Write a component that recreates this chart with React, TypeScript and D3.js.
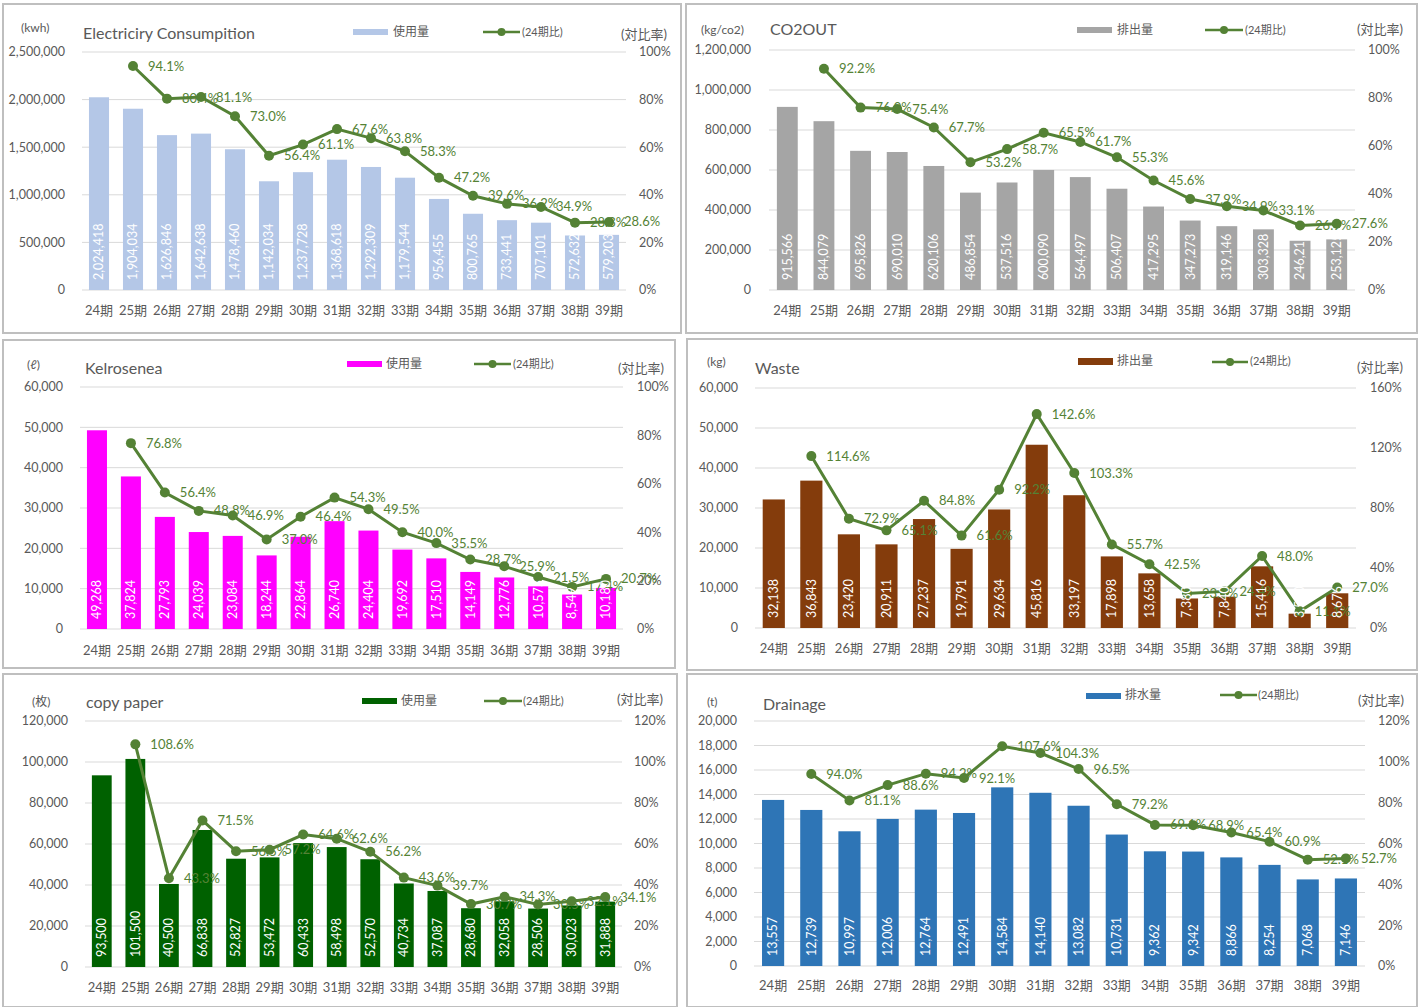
import React from "react";
import * as d3 from "d3";

const periods = ["24期","25期","26期","27期","28期","29期","30期","31期","32期","33期","34期","35期","36期","37期","38期","39期"];

const electricityUse = [2024418,1904034,1626846,1642638,1478460,1142034,1237728,1368618,1292309,1179544,956455,800765,733441,707101,572632,579203];
const electricityRatio = [94.1,80.4,81.1,73.0,56.4,61.1,67.6,63.8,58.3,47.2,39.6,36.2,34.9,28.3,28.6];

const co2Out = [915566,844079,695826,690010,620106,486854,537516,600090,564497,506407,417295,347273,319146,303328,246215,253125];
const co2Ratio = [92.2,76.0,75.4,67.7,53.2,58.7,65.5,61.7,55.3,45.6,37.9,34.9,33.1,26.9,27.6];

const keroseneUse = [49268,37824,27793,24039,23084,18244,22864,26740,24404,19692,17510,14149,12776,10575,8549,10180];
const keroseneRatio = [76.8,56.4,48.8,46.9,37.0,46.4,54.3,49.5,40.0,35.5,28.7,25.9,21.5,17.4,20.7];

const wasteOut = [32138,36843,23420,20911,27237,19791,29634,45816,33197,17898,13658,7380,7840,15416,3580,8676];
const wasteRatio = [114.6,72.9,65.1,84.8,61.6,92.2,142.6,103.3,55.7,42.5,23.0,24.4,48.0,11.1,27.0];

const paperUse = [93500,101500,40500,66838,52827,53472,60433,58498,52570,40734,37087,28680,32058,28506,30023,31888];
const paperRatio = [108.6,43.3,71.5,56.5,57.2,64.6,62.6,56.2,43.6,39.7,30.7,34.3,30.5,32.1,34.1];

const drainageOut = [13557,12739,10997,12006,12764,12491,14584,14140,13082,10731,9362,9342,8866,8254,7068,7146];
const drainageRatio = [94.0,81.1,88.6,94.2,92.1,107.6,104.3,96.5,79.2,69.1,68.9,65.4,60.9,52.1,52.7];

const FONT = "Lato, 'Noto Sans CJK JP', sans-serif";
const TXT = "#595959";
const GREEN = "#548235";
const GRID = "#d9d9d9";
const fmt = d3.format(",");

type Cfg = {
  box: [number, number, number, number];
  plot: { x0: number; x1: number; top: number; bottom: number };
  leftMax: number; leftStep: number; rightMax: number; rightStep: number;
  leftLabelX: number; rightLabelX: number; xLabelY: number;
  unit: { text: string; x: number; y: number };
  title: { text: string; x: number; y: number };
  legend: { sx: number; sy: number; sw: number; sh: number; text: string; tx: number; ty: number; lx0: number; lx1: number; ly: number; ltx: number };
  ratioTitle: { x: number; y: number };
  color: string;
  values: number[];
  ratio: number[];
  pad: number;
};

const panels: Cfg[] = [
  {
    box: [3, 4, 678, 329],
    plot: { x0: 82, x1: 626, top: 52, bottom: 290 },
    leftMax: 2500000, leftStep: 500000, rightMax: 100, rightStep: 20,
    leftLabelX: 65, rightLabelX: 639, xLabelY: 310,
    unit: { text: "(kwh)", x: 21, y: 28 },
    title: { text: "Electriciry Consumpition", x: 83, y: 33 },
    legend: { sx: 353, sy: 29, sw: 35, sh: 6, text: "使用量", tx: 393, ty: 32, lx0: 483, lx1: 520, ly: 32, ltx: 522 },
    ratioTitle: { x: 621, y: 34 },
    color: "#b4c7e7", values: electricityUse, ratio: electricityRatio, pad: 0.41,
  },
  {
    box: [686, 4, 731, 329],
    plot: { x0: 769, x1: 1355, top: 50, bottom: 290 },
    leftMax: 1200000, leftStep: 200000, rightMax: 100, rightStep: 20,
    leftLabelX: 751, rightLabelX: 1368, xLabelY: 310,
    unit: { text: "(kg/co2)", x: 701, y: 30 },
    title: { text: "CO2OUT", x: 770, y: 29 },
    legend: { sx: 1077, sy: 27, sw: 35, sh: 6, text: "排出量", tx: 1117, ty: 30, lx0: 1205, lx1: 1243, ly: 30, ltx: 1245 },
    ratioTitle: { x: 1357, y: 29 },
    color: "#a5a5a5", values: co2Out, ratio: co2Ratio, pad: 0.43,
  },
  {
    box: [3, 340, 672, 328],
    plot: { x0: 80, x1: 623, top: 387, bottom: 629 },
    leftMax: 60000, leftStep: 10000, rightMax: 100, rightStep: 20,
    leftLabelX: 63, rightLabelX: 637, xLabelY: 650,
    unit: { text: "(ℓ)", x: 27, y: 365 },
    title: { text: "Kelrosenea", x: 85, y: 368 },
    legend: { sx: 347, sy: 361, sw: 35, sh: 6, text: "使用量", tx: 386, ty: 364, lx0: 474, lx1: 511, ly: 364, ltx: 513 },
    ratioTitle: { x: 618, y: 368 },
    color: "#ff00ff", values: keroseneUse, ratio: keroseneRatio, pad: 0.41,
  },
  {
    box: [687, 339, 730, 331],
    plot: { x0: 755, x1: 1356, top: 388, bottom: 628 },
    leftMax: 60000, leftStep: 10000, rightMax: 160, rightStep: 40,
    leftLabelX: 738, rightLabelX: 1370, xLabelY: 648,
    unit: { text: "(kg)", x: 707, y: 362 },
    title: { text: "Waste", x: 755, y: 368 },
    legend: { sx: 1078, sy: 358, sw: 35, sh: 7, text: "排出量", tx: 1117, ty: 361, lx0: 1212, lx1: 1248, ly: 362, ltx: 1250 },
    ratioTitle: { x: 1357, y: 367 },
    color: "#843c0c", values: wasteOut, ratio: wasteRatio, pad: 0.41,
  },
  {
    box: [3, 674, 674, 333],
    plot: { x0: 85, x1: 622, top: 721, bottom: 967 },
    leftMax: 120000, leftStep: 20000, rightMax: 120, rightStep: 20,
    leftLabelX: 68, rightLabelX: 634, xLabelY: 987,
    unit: { text: "(枚)", x: 32, y: 702 },
    title: { text: "copy paper", x: 86, y: 702 },
    legend: { sx: 362, sy: 698, sw: 35, sh: 6, text: "使用量", tx: 401, ty: 701, lx0: 484, lx1: 522, ly: 701, ltx: 523 },
    ratioTitle: { x: 617, y: 699 },
    color: "#006100", values: paperUse, ratio: paperRatio, pad: 0.41,
  },
  {
    box: [687, 674, 730, 333],
    plot: { x0: 754, x1: 1365, top: 721, bottom: 966 },
    leftMax: 20000, leftStep: 2000, rightMax: 120, rightStep: 20,
    leftLabelX: 737, rightLabelX: 1378, xLabelY: 985,
    unit: { text: "(t)", x: 707, y: 702 },
    title: { text: "Drainage", x: 763, y: 704 },
    legend: { sx: 1086, sy: 693, sw: 35, sh: 6, text: "排水量", tx: 1125, ty: 695, lx0: 1220, lx1: 1257, ly: 695, ltx: 1258 },
    ratioTitle: { x: 1358, y: 700 },
    color: "#2e75b6", values: drainageOut, ratio: drainageRatio, pad: 0.42,
  },
];

function Panel({ cfg }: { cfg: Cfg }) {
  const { plot } = cfg;
  const x = d3.scaleBand<string>().domain(periods).range([plot.x0, plot.x1]).paddingInner(cfg.pad).paddingOuter(cfg.pad / 2);
  const yL = d3.scaleLinear().domain([0, cfg.leftMax]).range([plot.bottom, plot.top]);
  const yR = d3.scaleLinear().domain([0, cfg.rightMax]).range([plot.bottom, plot.top]);
  const leftTicks = d3.range(0, cfg.leftMax + 1, cfg.leftStep);
  const rightTicks = d3.range(0, cfg.rightMax + 0.001, cfg.rightStep);
  const bw = x.bandwidth();
  const pts = cfg.ratio.map((r, i) => ({ x: (x(periods[i + 1]) as number) + bw / 2, y: yR(r), r }));
  const line = d3.line<{ x: number; y: number }>().x(d => d.x).y(d => d.y);
  const [bx, by, bwid, bh] = cfg.box;
  const lg = cfg.legend;
  return (
    <g fontFamily={FONT}>
      <rect x={bx} y={by} width={bwid} height={bh} fill="#fff" stroke="#bfbfbf" strokeWidth={2} />
      {leftTicks.map(t => (
        <line key={"g" + t} x1={plot.x0} x2={plot.x1} y1={yL(t)} y2={yL(t)} stroke={GRID} strokeWidth={1} />
      ))}
      {leftTicks.map(t => (
        <text key={"l" + t} x={cfg.leftLabelX} y={yL(t)} dy="0.35em" textAnchor="end" fontSize={12.5} fill={TXT}>{fmt(t)}</text>
      ))}
      {rightTicks.map(t => (
        <text key={"r" + t} x={cfg.rightLabelX} y={yR(t)} dy="0.35em" fontSize={12.5} fill={TXT}>{Math.round(t) + "%"}</text>
      ))}
      {periods.map(p => (
        <text key={"x" + p} x={(x(p) as number) + bw / 2} y={cfg.xLabelY} dy="0.35em" textAnchor="middle" fontSize={13} fill={TXT}>{p}</text>
      ))}
      <text x={cfg.unit.x} y={cfg.unit.y} dy="0.35em" fontSize={12} fill={TXT}>{cfg.unit.text}</text>
      <text x={cfg.title.x} y={cfg.title.y} dy="0.35em" fontSize={16} fill={TXT}>{cfg.title.text}</text>
      <text x={cfg.ratioTitle.x} y={cfg.ratioTitle.y} dy="0.35em" fontSize={13} fill={TXT}>(対比率)</text>
      <rect x={lg.sx} y={lg.sy} width={lg.sw} height={lg.sh} fill={cfg.color} />
      <text x={lg.tx} y={lg.ty} dy="0.35em" fontSize={12} fill={TXT}>{lg.text}</text>
      <line x1={lg.lx0} x2={lg.lx1} y1={lg.ly} y2={lg.ly} stroke={GREEN} strokeWidth={2.5} />
      <circle cx={(lg.lx0 + lg.lx1) / 2} cy={lg.ly} r={4} fill={GREEN} />
      <text x={lg.ltx} y={lg.ty} dy="0.35em" fontSize={11} fill={TXT}>(24期比)</text>
      {cfg.values.map((v, i) => (
        <rect key={"b" + i} x={x(periods[i]) as number} y={yL(v)} width={bw} height={plot.bottom - yL(v)} fill={cfg.color} />
      ))}
      {pts.map((p, i) => (
        <text key={"pl" + i} x={p.x + 15} y={p.y} dy="0.35em" fontSize={13} fill={GREEN}>{p.r.toFixed(1) + "%"}</text>
      ))}
      <path d={line(pts) || ""} fill="none" stroke={GREEN} strokeWidth={3} />
      {pts.map((p, i) => (
        <circle key={"m" + i} cx={p.x} cy={p.y} r={5} fill={GREEN} />
      ))}
      {cfg.values.map((v, i) => {
        const cx = (x(periods[i]) as number) + bw / 2;
        return (
          <text key={"bl" + i} transform={`translate(${cx},${plot.bottom - 10}) rotate(-90)`} dy="0.35em" fontSize={12.5} fill="#fff">{fmt(v)}</text>
        );
      })}
    </g>
  );
}

export default function App() {
  return (
    <svg width={1426} height={1007} style={{ position: "absolute", left: 0, top: 0, background: "#fff" }}>
      <rect x={0} y={0} width={1426} height={1007} fill="#fff" />
      {panels.map((p, i) => <Panel key={i} cfg={p} />)}
    </svg>
  );
}
